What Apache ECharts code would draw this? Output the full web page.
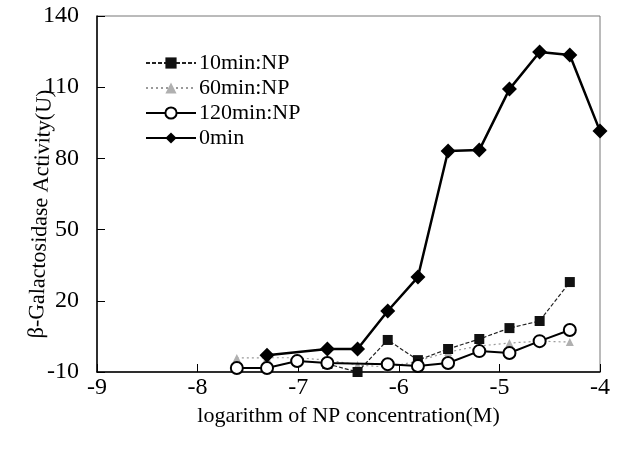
<!DOCTYPE html>
<html>
<head>
<meta charset="utf-8">
<script src="https://cdn.jsdelivr.net/npm/echarts@6/dist/echarts.min.js"></script>
<style>html,body{margin:0;padding:0;background:#fff;}#c{width:618px;height:461px;}</style>
</head>
<body>
<div id="c"></div>
<script>
// log10 of NP concentration (M)
var xs0 = [-7.31, -6.71, -6.41, -6.11, -5.81, -5.51, -5.20, -4.90, -4.60, -4.30, -4.00];
var y0min = [-2.9, -0.3, -0.3, 15.7, 30.0, 83.1, 83.5, 109.2, 124.8, 123.6, 91.5];

var xs10 = [-6.71, -6.41, -6.11, -5.81, -5.51, -5.20, -4.90, -4.60, -4.30];
var y10min = [-6.6, -10.0, 3.5, -5.0, -0.3, 3.9, 8.5, 11.5, 27.9];

var xs60 = [-7.61, -7.31, -7.01, -6.71, -6.41, -6.11, -5.81, -5.51, -5.20, -4.90, -4.60, -4.30];
var y60min = [-4.1, -4.0, -4.0, -5.0, -7.0, -8.0, -5.4, -1.6, 1.0, 2.2, 3.0, 2.6];

var xs120 = [-7.61, -7.31, -7.01, -6.71, -6.11, -5.81, -5.51, -5.20, -4.90, -4.60, -4.30];
var y120min = [-8.3, -8.3, -5.4, -6.2, -6.7, -7.5, -6.2, -1.2, -2.0, 3.0, 7.7];

var seriesNames = ['10min:NP', '60min:NP', '120min:NP', '0min'];
var xTicks = [-9, -8, -7, -6, -5, -4];
var yTicks = [-10, 20, 50, 80, 110, 140];
var xTitle = 'logarithm of NP concentration(M)';
var yTitle = 'β-Galactosidase Activity(U)';

function pairs(xs, ys) { return xs.map(function (x, i) { return [x, ys[i]]; }); }

var font = '"Liberation Serif", "Times New Roman", serif';
var chart = echarts.init(document.getElementById('c'), null, {renderer: 'canvas'});
chart.setOption({
  backgroundColor: '#ffffff',
  animation: false,
  grid: {left: 97, right: 18, top: 16, bottom: 89, show: true, borderColor: '#777', borderWidth: 1, backgroundColor: 'transparent'},
  legend: {
    data: seriesNames,
    orient: 'vertical',
    left: 140, top: 47,
    itemWidth: 50, itemHeight: 14, itemGap: 3,
    textStyle: {fontFamily: font, fontSize: 22, color: '#000', lineHeight: 22, padding: [0, 0, 0, -2]}
  },
  graphic: [{
    type: 'text', x: 41, y: 214, rotation: Math.PI / 2 - 0.035,
    style: {text: yTitle, font: '22px ' + font, fill: '#000', align: 'center', verticalAlign: 'middle'}
  }],
  xAxis: {
    type: 'value', min: xTicks[0], max: xTicks[xTicks.length - 1], interval: 1,
    name: xTitle, nameLocation: 'middle', nameGap: 30,
    nameTextStyle: {fontFamily: font, fontSize: 22, color: '#000'},
    axisLine: {onZero: false, lineStyle: {color: '#000', width: 1.5}},
    axisTick: {inside: true, length: 8, lineStyle: {color: '#000'}},
    axisLabel: {fontFamily: font, fontSize: 24, color: '#000', margin: 4},
    splitLine: {show: false}
  },
  yAxis: {
    type: 'value', min: yTicks[0], max: yTicks[yTicks.length - 1], interval: 30,
    axisLine: {onZero: false, lineStyle: {color: '#000', width: 1.5}},
    axisTick: {inside: true, length: 8, lineStyle: {color: '#000'}},
    axisLabel: {fontFamily: font, fontSize: 24, color: '#000', margin: 18},
    splitLine: {show: false}
  },
  series: [
    {
      name: '10min:NP', type: 'line', data: pairs(xs10, y10min), z: 3,
      symbol: 'rect', symbolSize: 10,
      lineStyle: {color: '#222', width: 1.2, type: [4, 2]},
      itemStyle: {color: '#111', borderWidth: 0}
    },
    {
      name: '60min:NP', type: 'line', data: pairs(xs60, y60min), z: 2,
      symbol: 'triangle', symbolSize: 8,
      lineStyle: {color: '#9a9a9a', width: 1.2, type: [2, 3]},
      itemStyle: {color: '#b0b0b0', borderWidth: 0}
    },
    {
      name: '120min:NP', type: 'line', data: pairs(xs120, y120min), z: 4,
      symbol: 'circle', symbolSize: 12,
      lineStyle: {color: '#000', width: 2},
      itemStyle: {color: '#fff', borderColor: '#000', borderWidth: 2}
    },
    {
      name: '0min', type: 'line', data: pairs(xs0, y0min), z: 5,
      symbol: 'diamond', symbolSize: 15,
      lineStyle: {color: '#000', width: 2.5},
      itemStyle: {color: '#000', borderWidth: 0}
    }
  ]
});
</script>
</body>
</html>
